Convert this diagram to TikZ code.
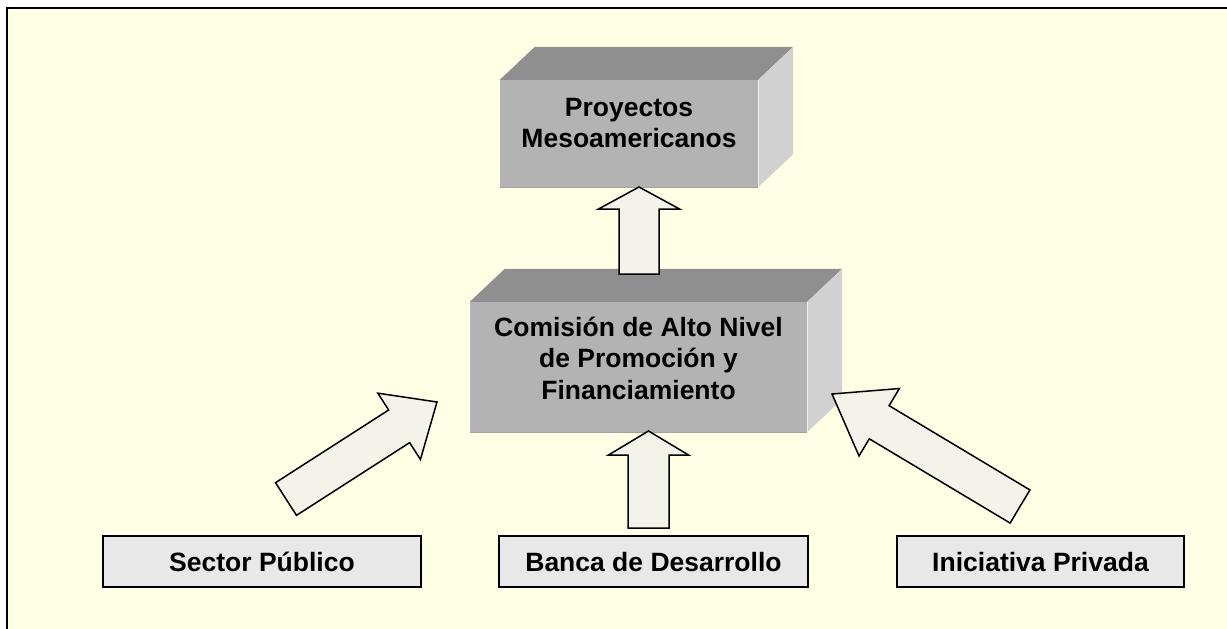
\documentclass[tikz,border=0pt]{standalone}
\usepackage{fontspec}
\setmainfont{Liberation Sans}
\usetikzlibrary{calc}
\definecolor{bgcream}{HTML}{FFFFE5}
\definecolor{frontgray}{HTML}{B3B3B3}
\definecolor{topgray}{HTML}{8F8F8F}
\definecolor{sidegray}{HTML}{D1D1D1}
\definecolor{basegray}{HTML}{E8E8E8}
\definecolor{arrowfill}{HTML}{F3F3EA}
\tikzset{
  frontface/.style={fill=frontgray, draw=none, inner sep=0pt},
  topface/.style={fill=topgray},
  sideface/.style={fill=sidegray},
  basebox/.style={draw=black, line width=2pt, fill=basegray, inner sep=0pt,
    text height=19pt, text depth=0pt},
  boxtext/.style={font=\bfseries\fontsize{26.5}{31.5}\selectfont, align=center, inner sep=0pt},
  blockarrow/.style={draw=black, line width=1.5pt, fill=arrowfill, line join=miter},
}
% #1 tail, #2 tip, #3 shaft half width, #4 head length, #5 wing half width
\newcommand\blockarr[5]{%
  \coordinate (hb) at ($(#2)!#4!(#1)$);
  \draw[blockarrow] ($(#1)!#3!90:(#2)$) -- ($(hb)!#3!90:(#2)$) -- ($(hb)!#5!90:(#2)$)
    -- (#2) -- ($(hb)!#5!-90:(#2)$) -- ($(hb)!#3!-90:(#2)$) -- ($(#1)!#3!-90:(#2)$) -- cycle;
}
% cuboid: name, center, width, height ; depth offset (35,-33)
\newcommand\cuboid[4]{%
  \node[frontface, minimum width=#3, minimum height=#4] (#1) at (#2) {};
  \fill[topface] (#1.north west) -- ++(35,-33) -- ($(#1.north east)+(35,-33)$) -- (#1.north east) -- cycle;
  \fill[sideface] (#1.north east) -- ++(35,-33) -- ($(#1.south east)+(35,-33)$) -- (#1.south east) -- cycle;
  \draw[line width=0.8pt, draw=white!80!frontgray] (#1.north east) -- (#1.south east);
  \draw[line width=0.8pt, draw=black!10!frontgray] (#1.south west) -- (#1.south east);
}
\begin{document}
\begin{tikzpicture}[x=1pt,y=-1pt]
\useasboundingbox (0,0) rectangle (1227,629);
\clip (0,0) rectangle (1227,629);
\fill[white] (0,0) rectangle (1227,629);
\draw[line width=2.5pt, fill=bgcream] (7,8) rectangle (1260,660);

% 3D boxes
\cuboid{proy}{629,133.5}{258pt}{107pt}
\node[boxtext] (proytxt) at (629,123) {Proyectos\\Mesoamericanos};

\cuboid{comision}{638.5,367}{337pt}{130pt}
\node[boxtext] (comtxt) at (638.5,358) {Comisión de Alto Nivel\\de Promoción y\\Financiamiento};

% bottom boxes
\node[basebox, boxtext, minimum width=318pt, minimum height=51pt, text height=19pt, text depth=0pt] (sector) at (262,561.5) {Sector Público};
\node[basebox, boxtext, minimum width=309pt, minimum height=51pt, text height=19pt, text depth=0pt] (banca) at (653.5,561.5) {Banca de Desarrollo};
\node[basebox, boxtext, minimum width=287pt, minimum height=51pt, text height=19pt, text depth=0pt] (privada) at (1040.5,561.5) {Iniciativa Privada};

% arrow end points
\coordinate (t0) at (639,274);   \coordinate (p0) at (639,187);
\coordinate (t1) at (286,499);   \coordinate (p1) at (437,402);
\coordinate (t2) at (648.5,528); \coordinate (p2) at (648.5,431);
\coordinate (t3) at (1020,506.5); \coordinate (p3) at (832,394);

\blockarr{t0}{p0}{20pt}{22pt}{40.5pt}
\blockarr{t1}{p1}{19.4pt}{45pt}{39.4pt}
\blockarr{t2}{p2}{20.5pt}{24pt}{40pt}
\blockarr{t3}{p3}{19.3pt}{55pt}{39.3pt}
\end{tikzpicture}
\end{document}
